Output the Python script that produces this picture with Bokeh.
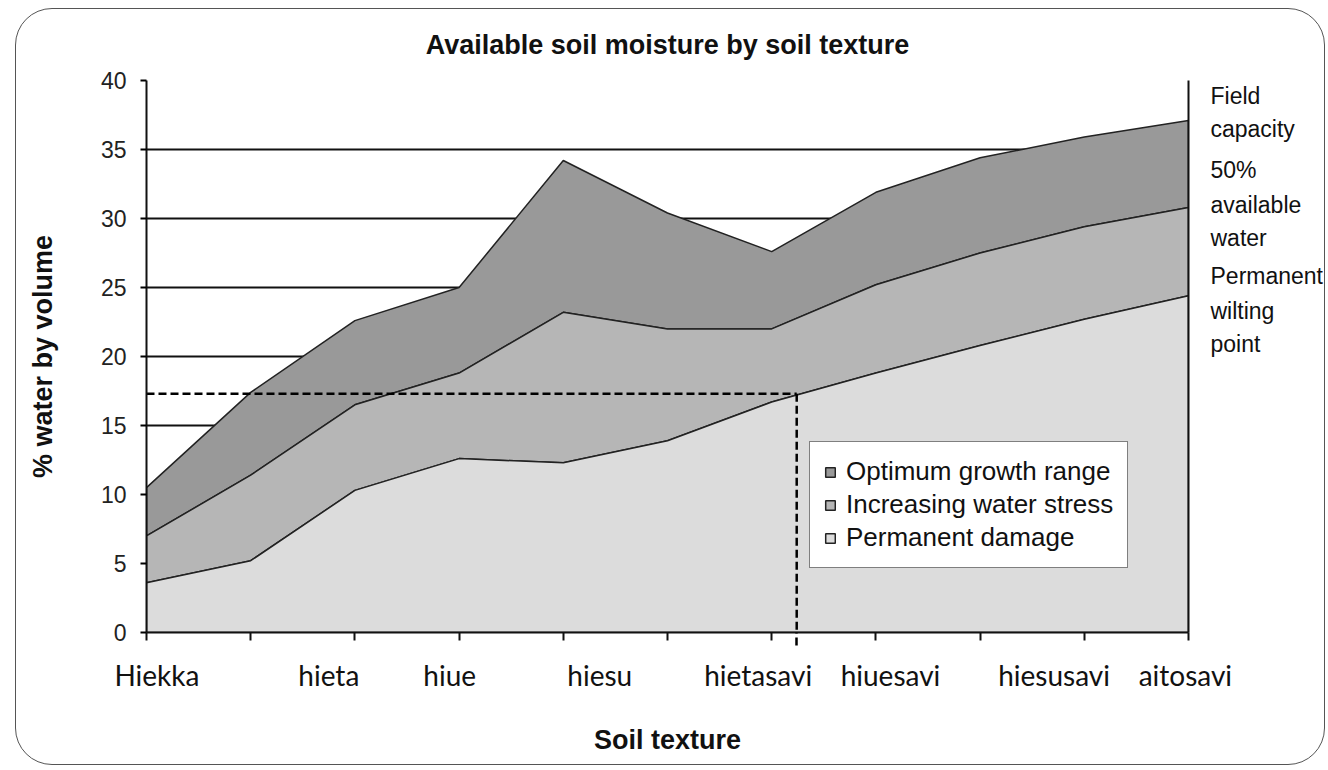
from bokeh.plotting import figure
from bokeh.models import Range1d, FixedTicker, Legend, LegendItem, LinearAxis
from bokeh.embed import file_html
from bokeh.resources import INLINE

# ---------------- data ----------------
idx = list(range(11))                      # category positions (tick marks)
# boundary curves (% water by volume)
wilting_point = [3.6, 5.2, 10.3, 12.6, 12.3, 13.9, 16.7, 18.8, 20.8, 22.7, 24.4]
half_available = [7.0, 11.4, 16.5, 18.8, 23.2, 22.0, 22.0, 25.2, 27.5, 29.4, 30.8]
field_capacity = [10.5, 17.4, 22.6, 25.0, 34.2, 30.4, 27.6, 31.9, 34.4, 35.9, 37.1]
baseline = [0.0] * len(idx)

series_names = ["Optimum growth range", "Increasing water stress", "Permanent damage"]
series_colors = ["#999999", "#b6b6b6", "#dcdcdc"]

texture_names = ["Hiekka", "hieta", "hiue", "hiesu", "hietasavi", "hiuesavi", "hiesusavi", "aitosavi"]
texture_pos = [0.1, 1.75, 2.91, 4.35, 5.87, 7.14, 8.71, 9.97]

y_ticks = [0, 5, 10, 15, 20, 25, 30, 35, 40]

ref_x, ref_y = 6.24, 17.3      # reading guide (dashed)

note_lines = ["Field", "capacity", "50%", "available", "water", "Permanent", "wilting", "point"]
note_y = [38.88, 36.45, 33.55, 31.0, 28.6, 25.8, 23.33, 20.94]

# ---------------- figure ----------------
p = figure(width=1316, height=763, x_range=Range1d(0, 10), y_range=Range1d(0, 40),
           output_backend="svg", toolbar_location=None,
           min_border_left=134, min_border_right=140, min_border_top=75, min_border_bottom=136,
           title="Available soil moisture by soil texture")
p.styles = {"outline": "1.5px solid #555", "outline-offset": "-4px", "border-radius": "40px",
            "margin-left": "12px", "margin-top": "5px"}
p.background_fill_color = "white"
p.border_fill_alpha = 0
p.outline_line_color = None

p.title.align = "center"
p.title.text_font = "Liberation Sans"
p.title.text_font_style = "bold"
p.title.text_font_size = "27px"
p.title.text_color = "#111"
p.title.standoff = 41

# grid
p.xgrid.visible = False
p.ygrid.ticker = FixedTicker(ticks=y_ticks)
p.ygrid.grid_line_color = "#111"
p.ygrid.grid_line_width = 1.8

# y axis
ya = p.yaxis[0]
ya.ticker = FixedTicker(ticks=y_ticks)
ya.axis_line_color = "#111"
ya.axis_line_width = 2
ya.major_tick_out = 6
ya.major_tick_in = 0
ya.major_tick_line_width = 2
ya.minor_tick_out = 0
ya.minor_tick_in = 0
ya.major_label_standoff = 14
ya.major_label_text_font = "Liberation Sans"
ya.major_label_text_font_size = "23px"
ya.major_label_text_color = "#222"
ya.axis_label = "% water by volume"
ya.axis_label_text_font = "Liberation Sans"
ya.axis_label_text_font_style = "bold"
ya.axis_label_text_font_size = "27px"
ya.axis_label_text_color = "#111"
ya.axis_label_standoff = 40

# x axis (at the frame): category tick marks, plus the dashed guide running past the axis
xa = p.xaxis[0]
xa.ticker = FixedTicker(ticks=[ref_x], minor_ticks=idx)
xa.major_label_overrides = {ref_x: ""}
xa.major_label_text_font_size = "1px"
xa.major_label_standoff = 0
xa.axis_line_color = "#111"
xa.axis_line_width = 2
xa.major_tick_out = 13
xa.major_tick_in = 0
xa.major_tick_line_color = "black"
xa.major_tick_line_width = 2.5
xa.major_tick_line_dash = "8 4"
xa.minor_tick_out = 8
xa.minor_tick_in = 0
xa.minor_tick_line_color = "#111"
xa.minor_tick_line_width = 2

# second x axis: the soil texture names, placed as in the original
xb = LinearAxis(ticker=FixedTicker(ticks=texture_pos))
xb.major_label_overrides = dict(zip(texture_pos, texture_names))
xb.axis_line_color = None
xb.major_tick_line_color = None
xb.minor_tick_line_color = None
xb.major_tick_out = 0
xb.major_tick_in = 0
xb.minor_tick_out = 0
xb.minor_tick_in = 0
xb.major_label_standoff = 12
xb.major_label_text_font = "Lato"
xb.major_label_text_font_size = "28px"
xb.major_label_text_color = "#111"
xb.axis_label = "Soil texture"
xb.axis_label_text_font = "Liberation Sans"
xb.axis_label_text_font_style = "bold"
xb.axis_label_text_font_size = "27px"
xb.axis_label_text_color = "#111"
xb.axis_label_standoff = 30
p.add_layout(xb, "below")

# right axis carries the boundary notes and the right edge of the plot area
ra = LinearAxis(ticker=FixedTicker(ticks=note_y))
ra.major_label_overrides = dict(zip(note_y, note_lines))
ra.axis_line_color = "#111"
ra.axis_line_width = 2
ra.major_tick_out = 0
ra.major_tick_in = 0
ra.minor_tick_out = 0
ra.minor_tick_in = 0
ra.major_label_standoff = 22
ra.major_label_text_font = "Liberation Sans"
ra.major_label_text_font_size = "23px"
ra.major_label_text_color = "#111"
p.add_layout(ra, "right")

# stacked areas as outlined patches
bands = [(half_available, field_capacity), (wilting_point, half_available), (baseline, wilting_point)]
renderers = []
for (lo, hi), col in zip(bands, series_colors):
    r = p.patch(x=idx + idx[::-1], y=hi + lo[::-1], fill_color=col,
                line_color="#222", line_width=1.5)
    renderers.append(r)

# dashed reading guide
p.line(x=[0, ref_x], y=[ref_y, ref_y], line_color="black", line_width=2.5, line_dash="8 4")
p.line(x=[ref_x, ref_x], y=[ref_y, 0], line_color="black", line_width=2.5, line_dash="8 4")

# legend
items = [LegendItem(label=name, renderers=[r]) for name, r in zip(series_names, renderers)]
legend = Legend(items=items, location=(663, 64))
legend.label_text_font = "Liberation Sans"
legend.label_text_font_size = "26px"
legend.label_text_color = "#111"
legend.glyph_width = 12
legend.glyph_height = 12
legend.label_standoff = 10
legend.padding = 14
legend.spacing = 2
legend.margin = 0
legend.border_line_color = "black"
legend.border_line_width = 1.5
legend.background_fill_color = "white"
legend.background_fill_alpha = 1
p.add_layout(legend)

open("out.html", "w").write(file_html(p, INLINE))
